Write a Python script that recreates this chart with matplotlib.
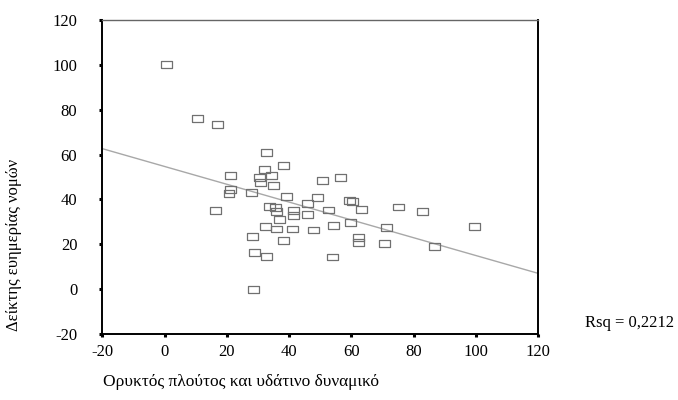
import matplotlib
matplotlib.use("Agg")
import matplotlib.pyplot as plt
import numpy as np

# values
mineral_wealth = [
    0.5, 10.5, 17.0, 32.7, 32.2, 38.2, 21.3, 30.6, 34.3, 30.9,
    34.9, 21.2, 20.7, 27.8, 39.2, 45.8, 16.4, 33.8, 35.7, 36.0,
    41.3, 41.3, 45.8, 37.0, 32.5, 36.1, 41.0, 28.4, 38.3, 29.0,
    32.7, 28.5, 47.9, 50.7, 56.4, 49.0, 52.8, 59.5, 60.5, 63.2,
    75.3, 82.8, 54.4, 59.9, 62.2, 62.2, 70.8, 71.2, 53.9, 86.6,
    99.7,
]
welfare_index = [
    100.0, 76.0, 73.4, 61.0, 53.3, 55.0, 50.8, 49.6, 50.8, 47.4,
    46.3, 44.6, 42.8, 43.0, 41.2, 38.3, 35.2, 36.9, 36.5, 34.5,
    35.0, 32.8, 33.2, 30.9, 27.9, 26.8, 26.8, 23.4, 21.6, 16.2,
    14.6, 0.0, 26.4, 48.4, 49.8, 40.7, 35.3, 39.6, 39.2, 35.6,
    36.6, 34.7, 28.4, 29.8, 23.2, 20.9, 20.2, 27.3, 14.3, 18.9,
    27.9,
]
fit_intercept = 54.7
fit_slope = -0.397
rsq_label = "Rsq = 0,2212"

x_ticks = [-20, 0, 20, 40, 60, 80, 100, 120]
y_ticks = [-20, 0, 20, 40, 60, 80, 100, 120]

plt.rcParams["font.family"] = ["Liberation Serif", "DejaVu Serif"]
plt.rcParams["axes.unicode_minus"] = False

fig = plt.figure(figsize=(6.78, 4.0), dpi=100)
ax = fig.add_axes([0.1509, 0.165, 0.6426, 0.785])

# wide hollow box marker
box = [(-1.6, -1.0), (1.6, -1.0), (1.6, 1.0), (-1.6, 1.0), (-1.6, -1.0)]
ax.scatter(mineral_wealth, welfare_index, marker=box, s=62,
           facecolors="none", edgecolors="#707070", linewidths=0.9, zorder=3)

line_x = np.array([-20, 120])
ax.plot(line_x, fit_intercept + fit_slope * line_x, color="#a8a8a8", lw=1.0, zorder=2)

ax.set_xlim(-20, 120)
ax.set_ylim(-20, 120)
ax.set_xticks(x_ticks)
ax.set_yticks(y_ticks)
ax.tick_params(axis="both", direction="out", length=2.5, width=2.2,
               colors="black", labelsize=12)
ax.tick_params(axis="y", pad=15.5)
ax.tick_params(axis="x", pad=5)

for side in ["left", "right", "bottom"]:
    ax.spines[side].set_color("black")
    ax.spines[side].set_linewidth(1.4)
ax.spines["top"].set_color("#666666")
ax.spines["top"].set_linewidth(1.0)

fig.text(103 / 678, 1 - 382 / 400, "Ορυκτός πλούτος και υδάτινο δυναμικό",
         ha="left", va="center", fontsize=12.5)
fig.text(14 / 678, 1 - 331 / 400, "Δείκτης ευημερίας νομών",
         rotation=90, ha="center", va="bottom", fontsize=12)
fig.text(585 / 678, 1 - 323 / 400, rsq_label, ha="left", va="center", fontsize=12)

fig.savefig("out.png", dpi=100)
